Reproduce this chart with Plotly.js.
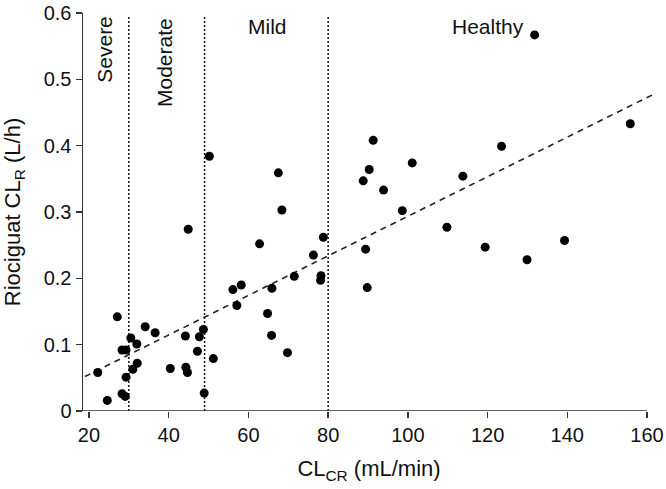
<!DOCTYPE html>
<html>
<head>
<meta charset="utf-8">
<script src="https://cdn.plot.ly/plotly-3.0.1.min.js"></script>
<style>
  html, body { margin: 0; padding: 0; background: #fff; }
  #chart { width: 666px; height: 489px; }
</style>
</head>
<body>
<div id="chart"></div>
<script>
// Creatinine clearance (mL/min)
const crcl = [
  22.2, 24.6, 27.1, 28.3, 29.3, 28.3, 29.1, 29.3, 30.5, 32.0, 31.0, 32.1, 34.1, 36.6,
  40.4, 44.2, 44.3, 44.7, 47.2, 47.7, 48.7, 48.9, 51.2, 56.1, 58.2, 57.1, 44.9,
  50.2, 67.5, 68.4, 62.8, 76.3, 78.8, 71.5, 78.2, 78.1, 65.9, 64.8, 65.8, 69.8,
  88.8, 90.3, 91.3, 93.9, 89.4, 89.8,
  131.8, 101.1, 123.5, 155.8, 113.8, 98.6, 109.8, 119.4, 129.9, 139.3
];
// Riociguat renal clearance (L/h)
const clr = [
  0.058, 0.016, 0.142, 0.092, 0.092, 0.026, 0.022, 0.051, 0.110, 0.101, 0.063, 0.072, 0.127, 0.118,
  0.064, 0.113, 0.066, 0.058, 0.090, 0.112, 0.123, 0.027, 0.079, 0.183, 0.190, 0.159, 0.274,
  0.384, 0.359, 0.303, 0.252, 0.235, 0.262, 0.203, 0.204, 0.197, 0.185, 0.147, 0.114, 0.088,
  0.347, 0.364, 0.408, 0.333, 0.244, 0.186,
  0.567, 0.374, 0.399, 0.433, 0.354, 0.302, 0.277, 0.247, 0.228, 0.257
];
// Regression line end points
const fitX = [19, 161.5];
const fitY = [0.052, 0.477];
// Renal impairment category boundaries and labels
const bandEdges = [30, 49, 80];
const bandLabels = ['Severe', 'Moderate', 'Mild', 'Healthy'];
const bandLabelX = [24.0, 38.8, 64.7, 120.1];
const bandLabelY = [0.546, 0.526, 0.579, 0.579];
const bandLabelAngle = [-90, -90, 0, 0];
const xTicks = [20, 40, 60, 80, 100, 120, 140, 160];
const yTicks = [0, 0.1, 0.2, 0.3, 0.4, 0.5, 0.6];
const yTickText = ['0', '0.1', '0.2', '0.3', '0.4', '0.5', '0.6'];

const FONT = 'Liberation Sans, Arial, Helvetica, sans-serif';
const AX = '#333333';

const traces = [
  {
    x: fitX, y: fitY, type: 'scatter', mode: 'lines',
    line: { color: '#222', width: 1.6, dash: '6px,5px' },
    hoverinfo: 'skip', showlegend: false
  },
  {
    x: crcl, y: clr, type: 'scatter', mode: 'markers',
    marker: { color: '#000', size: 9 },
    showlegend: false, cliponaxis: false
  }
];

const shapes = bandEdges.map(v => ({
  type: 'line', xref: 'x', yref: 'y', x0: v, x1: v, y0: 0, y1: 0.597,
  line: { color: '#111', width: 1.5, dash: '2px,2px' }
}));
// x axis line from start of range to 160
shapes.push({
  type: 'line', xref: 'x', yref: 'y', x0: 18.5, x1: xTicks[xTicks.length - 1], y0: 0, y1: 0,
  line: { color: AX, width: 1.5 }
});

const annotations = bandLabels.map((t, i) => ({
  text: t, x: bandLabelX[i], y: bandLabelY[i], xref: 'x', yref: 'y',
  showarrow: false, textangle: bandLabelAngle[i],
  xanchor: 'center', yanchor: 'middle',
  font: { family: FONT, size: 21, color: '#111' }
}));

const layout = {
  width: 666, height: 489,
  margin: { l: 83, r: 11, t: 13, b: 78 },
  paper_bgcolor: '#fff', plot_bgcolor: '#fff',
  showlegend: false,
  font: { family: FONT, size: 20, color: '#111' },
  xaxis: {
    range: [18.5, 162], tickvals: xTicks, ticks: 'outside', ticklen: 6, tickwidth: 1.5,
    tickcolor: AX, showline: false, showgrid: false, zeroline: false,
    tickfont: { family: FONT, size: 20, color: '#111' },
    title: { text: 'CL<sub>CR</sub> (mL/min)', font: { family: FONT, size: 22, color: '#111' }, standoff: 15 }
  },
  yaxis: {
    range: [0, 0.6], tickvals: yTicks, ticktext: yTickText, ticks: 'outside', ticklen: 6, tickwidth: 1.5,
    tickcolor: AX, showline: true, linecolor: AX, linewidth: 1.5, showgrid: false, zeroline: false,
    tickfont: { family: FONT, size: 20, color: '#111' },
    title: { text: 'Riociguat CL<sub>R</sub> (L/h)', font: { family: FONT, size: 22, color: '#111' }, standoff: 17 }
  },
  shapes: shapes,
  annotations: annotations
};

Plotly.newPlot('chart', traces, layout, { displayModeBar: false, staticPlot: true });
</script>
</body>
</html>
